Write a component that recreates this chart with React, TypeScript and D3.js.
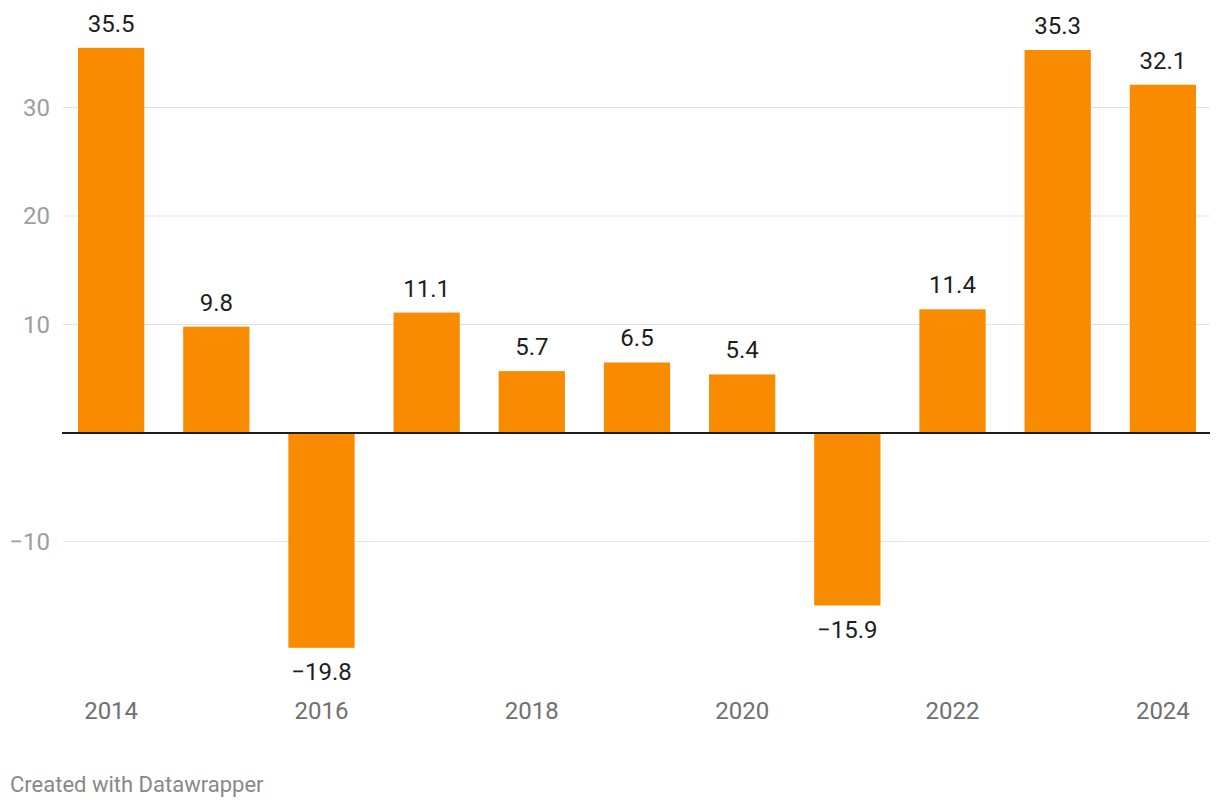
import React from "react";
import * as d3 from "d3";

const years = ["2014","2015","2016","2017","2018","2019","2020","2021","2022","2023","2024"];
const values = [35.5, 9.8, -19.8, 11.1, 5.7, 6.5, 5.4, -15.9, 11.4, 35.3, 32.1];
const yTicks = [-10, 10, 20, 30];
const xLabels = ["2014","2016","2018","2020","2022","2024"];

const W = 1220, H = 808;

export default function App() {
  const x = d3.scaleBand<string>().domain(years).range([78, 1196]).paddingInner(0.37).paddingOuter(0);
  const y = d3.scaleLinear().domain([-10, 30]).range([541.5, 107.5]);
  const fmt = (v: number) => (v < 0 ? "\u2212" : "") + Math.abs(v).toFixed(1);
  const fmtT = (v: number) => (v < 0 ? "\u2212" : "") + Math.abs(v);
  const font = "Roboto, sans-serif";
  return (
    <svg width={W} height={H} style={{ position: "absolute", left: 0, top: 0, background: "#fff" }} fontFamily={font}>
      <rect width={W} height={H} fill="#fff" />
      {yTicks.map(t => (
        <g key={t}>
          <line x1={63} x2={1210} y1={y(t)} y2={y(t)} stroke="#e3e3e3" strokeWidth={1} />
          <text x={50} y={y(t)} dy="0.35em" textAnchor="end" fontSize={24} fill="#9d9d9d">{fmtT(t)}</text>
        </g>
      ))}
      {years.map((yr, i) => {
        const v = values[i];
        const top = y(Math.max(0, v));
        const bot = y(Math.min(0, v));
        const cx = (x(yr) as number) + x.bandwidth() / 2;
        return (
          <g key={yr}>
            <rect x={x(yr)} y={top} width={x.bandwidth()} height={bot - top} fill="#f88b00" />
            <text x={cx} y={v >= 0 ? top - 16 : bot + 32} textAnchor="middle" fontSize={24} fill="#1d1d1d">{fmt(v)}</text>
          </g>
        );
      })}
      <line x1={62} x2={1210} y1={y(0)} y2={y(0)} stroke="#1d1d1d" strokeWidth={2} />
      {xLabels.map(l => (
        <text key={l} x={(x(l) as number) + x.bandwidth() / 2} y={719} textAnchor="middle" fontSize={24} fill="#707070">{l}</text>
      ))}
      <text x={10} y={792} fontSize={22} fill="#888">Created with Datawrapper</text>
    </svg>
  );
}
